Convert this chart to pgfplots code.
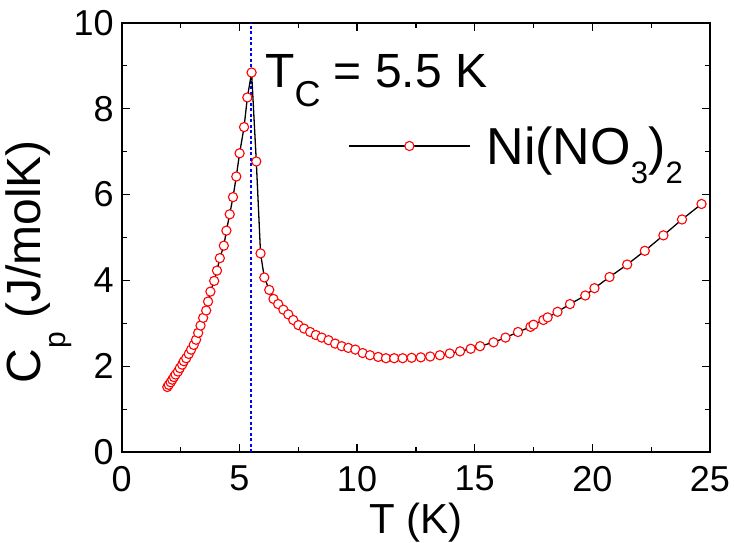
\documentclass[border=0pt]{standalone}
\usepackage{fontspec}
\setmainfont{Liberation Sans}
\usepackage{pgfplots}
\pgfplotsset{compat=1.18}
\newcommand{\lsub}[3]{\raisebox{-#1}{\fontsize{#2}{#2}\selectfont #3}}
\definecolor{tcblue}{RGB}{0,0,255}
\begin{document}
\begin{tikzpicture}
\begin{axis}[
  scale only axis, width=588.3pt, height=429.6pt,
  xmin=0, xmax=25, ymin=0, ymax=10,
  xtick={0,5,...,25}, ytick={0,2,...,10},
  minor x tick num=1, minor y tick num=1,
  tick align=inside,
  major tick length=8pt, minor tick length=5.5pt,
  axis line style={line width=2pt},
  every tick/.style={black, line width=1.3pt},
  tick label style={font=\fontsize{36}{40}\selectfont},
  yticklabel style={inner sep=0pt, xshift=-7.9pt},
  xticklabel style={inner sep=0pt, yshift=-13.4pt},
  /pgf/number format/assume math mode=true,
  xlabel={T (K)},
  ylabel={C\lsub{25pt}{30}{p} (J/molK)},
  xlabel style={at={(axis description cs:0.5,-0.1886)}, anchor=base, font=\fontsize{42}{46}\selectfont},
  ylabel style={at={(axis description cs:-0.1406,0.4437)}, anchor=center, font=\fontsize{48}{52}\selectfont},
  legend style={at={(axis cs:9.62,7.13)}, anchor=west, draw=none, fill=none, inner sep=0pt,
    column sep=14pt, font=\fontsize{52}{56}\selectfont},
  legend image code/.code={\draw[#1, mark repeat=2, mark phase=2] plot coordinates {(0pt,0pt) (60.5pt,0pt) (121pt,0pt)};},
]
\addplot[draw=tcblue, color=tcblue, line width=1.3pt, dash pattern=on 3pt off 2.5pt, forget plot] coordinates {(5.5,0) (5.5,10)};
\addplot[black, line width=1.3pt, mark=*, mark size=4.6pt,
  mark options={solid, fill=white, draw=red, line width=1.1pt}] coordinates {
(1.94,1.52) (2.00,1.57) (2.08,1.63) (2.15,1.69) (2.22,1.75) (2.29,1.81)
(2.39,1.88) (2.47,1.96) (2.57,2.04) (2.64,2.12) (2.74,2.19) (2.85,2.29)
(2.95,2.39) (3.06,2.50) (3.16,2.62) (3.25,2.78) (3.35,2.95) (3.46,3.13)
(3.59,3.30) (3.67,3.51) (3.77,3.74) (3.93,3.99) (4.05,4.23) (4.17,4.52)
(4.34,4.81) (4.45,5.16) (4.59,5.54) (4.73,5.94) (4.87,6.42) (5.01,6.96)
(5.20,7.57) (5.34,8.26) (5.52,8.84)
(5.72,6.77) (5.90,4.63) (6.06,4.07) (6.27,3.78) (6.45,3.57) (6.65,3.45)
(6.87,3.32) (7.08,3.21) (7.29,3.08) (7.51,2.96) (7.75,2.88) (8.01,2.80)
(8.25,2.73) (8.50,2.67) (8.79,2.61) (9.07,2.53) (9.35,2.47) (9.63,2.43)
(9.93,2.39) (10.24,2.31) (10.55,2.26) (10.90,2.22) (11.23,2.19) (11.58,2.19)
(11.94,2.19) (12.32,2.20) (12.71,2.21) (13.11,2.23) (13.52,2.26) (13.94,2.30)
(14.38,2.35) (14.83,2.41) (15.23,2.47) (15.80,2.56) (16.31,2.67) (16.84,2.80)
(17.37,2.92) (17.50,2.97) (17.92,3.08) (18.10,3.14) (18.52,3.27) (19.05,3.45)
(19.70,3.65) (20.09,3.82) (20.73,4.08) (21.48,4.37) (22.23,4.69) (23.02,5.05)
(23.81,5.42) (24.64,5.78)
};
\addlegendentry{Ni(NO\lsub{19pt}{31}{3})\lsub{19pt}{31}{2}}
\node[anchor=base west, inner sep=0pt, font=\fontsize{48}{52}\selectfont] at (axis cs:6.09,8.496) {T\lsub{19pt}{36}{C} = 5.5 K};
\end{axis}
\pgfresetboundingbox
\path[use as bounding box] ([xshift=-121.7pt,yshift=-90.7pt]current axis.south west) rectangle ([xshift=24pt,yshift=22.7pt]current axis.north east);
\end{tikzpicture}
\end{document}
